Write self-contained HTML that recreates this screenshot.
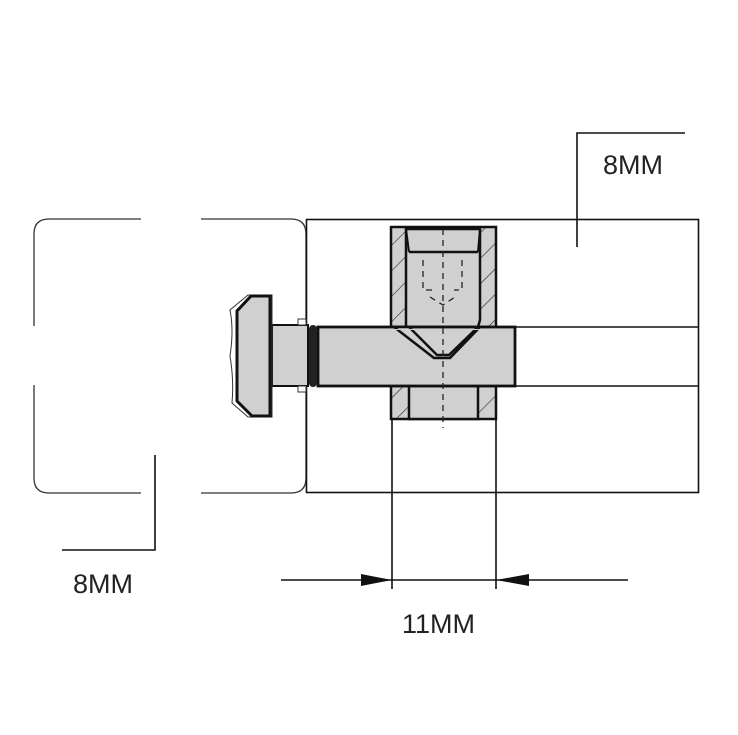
<!DOCTYPE html>
<html><head><style>
html,body{margin:0;padding:0;background:#fff;}
svg{display:block;}
text{font-family:"Liberation Sans",sans-serif;font-size:27px;fill:#222;}
</style></head><body>
<svg width="738" height="735" viewBox="0 0 738 735" xmlns="http://www.w3.org/2000/svg">
<defs>
<pattern id="h" patternUnits="userSpaceOnUse" width="18" height="18" patternTransform="rotate(45)">
<rect width="18" height="18" fill="#d0d0d0"/>
<line x1="0" y1="0" x2="0" y2="18" stroke="#333" stroke-width="1.3"/>
</pattern>
</defs>
<g fill="none" stroke="#333" stroke-width="1.3">
<path d="M141 219 H49 Q34 219 34 234 V326"/>
<path d="M34 385 V478 Q34 493 49 493 H141"/>
<path d="M201 219 H291 Q306 219 306 234 V478 Q306 493 291 493 H201"/>
</g>
<rect x="306.5" y="219.5" width="392" height="273" fill="none" stroke="#111" stroke-width="1.6"/>
<line x1="515" y1="327" x2="698" y2="327" stroke="#111" stroke-width="1.6"/>
<line x1="515" y1="386" x2="698" y2="386" stroke="#111" stroke-width="1.6"/>
<polyline points="577,247 577,133 685,133" fill="none" stroke="#111" stroke-width="1.6"/>
<polyline points="155,455 155,550 62,550" fill="none" stroke="#111" stroke-width="1.6"/>
<text x="603" y="174">8MM</text>
<text x="73" y="593">8MM</text>
<line x1="392" y1="419" x2="392" y2="589" stroke="#111" stroke-width="1.6"/>
<line x1="496" y1="419" x2="496" y2="589" stroke="#111" stroke-width="1.6"/>
<line x1="281" y1="580" x2="628" y2="580" stroke="#111" stroke-width="1.6"/>
<polygon points="361,574 392,580 361,586" fill="#111"/>
<polygon points="529,574 496,580 529,586" fill="#111"/>
<text x="402" y="633">11MM</text>
<rect x="391" y="227" width="105" height="100" fill="url(#h)" stroke="#111" stroke-width="2.5"/>
<rect x="391" y="386" width="105" height="33" fill="url(#h)" stroke="#111" stroke-width="2.5"/>
<rect x="409" y="386" width="69" height="33" fill="#d0d0d0" stroke="#111" stroke-width="2.5"/>
<polygon points="406,229 480,229 480,320 478,327 406,327 406,320" fill="#d0d0d0" stroke="#111" stroke-width="2.5"/>
<line x1="409" y1="252" x2="478" y2="252" stroke="#111" stroke-width="2.5"/>
<line x1="406" y1="229" x2="409" y2="252" stroke="#111" stroke-width="2"/>
<line x1="480" y1="229" x2="478" y2="252" stroke="#111" stroke-width="2"/>
<rect x="318" y="327" width="197" height="59" fill="#d0d0d0" stroke="#111" stroke-width="2.8"/>
<polygon points="394,327 409,327 437,355 449,355 478,327 480,327 450,358 434,358" fill="#d0d0d0" stroke="#111" stroke-width="2.5"/>
<rect x="395" y="329" width="90" height="1" fill="#d0d0d0"/>
<g stroke="#222" stroke-width="1.3" stroke-dasharray="6,5" fill="none">
<line x1="443" y1="229" x2="443" y2="428"/>
<polyline points="423,260 423,290 432,290"/>
<polyline points="462,260 462,290 454,290"/>
<polyline points="430,297 443,305 455,297"/>
</g>
<rect x="272" y="325" width="36" height="61" fill="#d0d0d0" stroke="#111" stroke-width="2"/>
<rect x="298" y="319" width="8" height="6" fill="#fff" stroke="#333" stroke-width="1"/>
<rect x="298" y="386" width="8" height="6" fill="#fff" stroke="#333" stroke-width="1"/>
<rect x="309" y="325" width="8" height="62" rx="4" fill="#222"/>
<path d="M248 295 H272 V417 H248 L232 403 Q234 380 230 356 Q234 330 230 310 Z" fill="#fff" stroke="#333" stroke-width="1"/>
<polygon points="251,296 270,296 270,416 252,416 237,401 237,311" fill="#d0d0d0" stroke="#111" stroke-width="3"/>
</svg>
</body></html>
